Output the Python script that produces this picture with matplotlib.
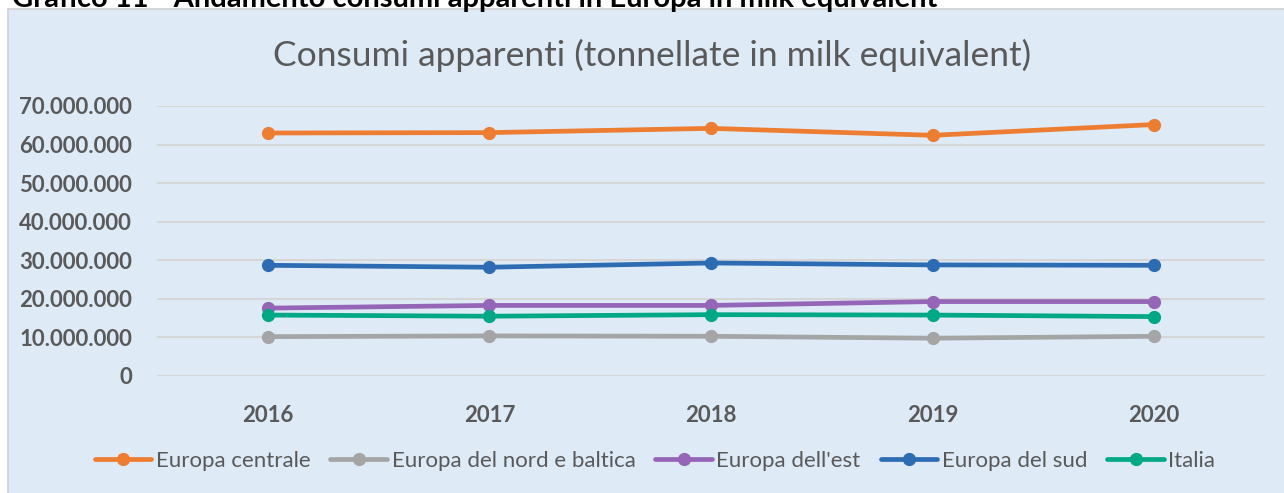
import matplotlib.pyplot as plt
from matplotlib.patches import Rectangle
from matplotlib.ticker import FuncFormatter

years = ["2016", "2017", "2018", "2019", "2020"]
europa_centrale = [63.0e6, 63.1e6, 64.2e6, 62.4e6, 65.2e6]
europa_nord_baltica = [10.2e6, 10.4e6, 10.3e6, 9.8e6, 10.3e6]
europa_est = [17.6e6, 18.3e6, 18.3e6, 19.3e6, 19.3e6]
europa_sud = [28.7e6, 28.2e6, 29.3e6, 28.8e6, 28.7e6]
italia = [15.8e6, 15.5e6, 15.9e6, 15.8e6, 15.4e6]

series = [
    ("Europa centrale", europa_centrale, "#ED7D31"),
    ("Europa del nord e baltica", europa_nord_baltica, "#A5A5A5"),
    ("Europa dell'est", europa_est, "#9565B7"),
    ("Europa del sud", europa_sud, "#2D6CB2"),
    ("Italia", italia, "#00A886"),
]

plt.rcParams['font.family'] = ['Lato', 'DejaVu Sans']
bg = "#DEEAF6"
txt = "#595959"

W, H = 1284, 493
fig = plt.figure(figsize=(W / 100, H / 100), dpi=100, facecolor="white")

# chart box
fig.patches.append(Rectangle((8 / W, -0.05), 1.1, 1 - 9 / H + 0.05,
                             transform=fig.transFigure, facecolor=bg,
                             edgecolor="#D0D0D0", linewidth=1.2, zorder=-5))

# header of the page, cut by the top edge as in the source
fig.text(12 / W, 1 - 7 / H, "Grafico 11 - Andamento consumi apparenti in Europa in milk equivalent",
         fontsize=21, fontweight="bold", color="black", va="baseline", ha="left")

ax = fig.add_axes([157 / W, 1 - 376 / H, (1265 - 157) / W, (376 - 106) / H])
ax.set_facecolor("none")

x = range(len(years))
for name, vals, col in series:
    ax.plot(x, vals, color=col, linewidth=3.4, marker="o", markersize=8.5,
            label=name, solid_capstyle="round", zorder=3)

ax.set_xlim(-0.5, len(years) - 0.5)
ax.set_ylim(0, 70e6)
ax.set_yticks(range(0, 70000001, 10000000))
ax.yaxis.set_major_formatter(FuncFormatter(lambda v, p: f"{int(v):,}".replace(",", ".")))
ax.set_xticks(list(x))
ax.set_xticklabels(years)
ax.grid(axis="y", color="#D6D6D6", linewidth=1.5)
ax.set_axisbelow(True)
for s in ax.spines.values():
    s.set_visible(False)
ax.tick_params(axis="both", length=0, labelcolor=txt, labelsize=16)
ax.tick_params(axis="y", pad=18)
ax.tick_params(axis="x", pad=21)
for lab in ax.get_xticklabels() + ax.get_yticklabels():
    lab.set_fontweight("bold")

fig.text(652 / W, 1 - 55 / H, "Consumi apparenti (tonnellate in milk equivalent)",
         fontsize=25.5, color=txt, ha="center", va="center")

fig.legend(loc="center", bbox_to_anchor=(655 / W, 1 - 461 / H), ncol=5, frameon=False,
           fontsize=16, labelcolor=txt, handlelength=2.55, handletextpad=0.2,
           columnspacing=0.9, borderaxespad=0)

fig.savefig("out.png", dpi=100, facecolor="white")
